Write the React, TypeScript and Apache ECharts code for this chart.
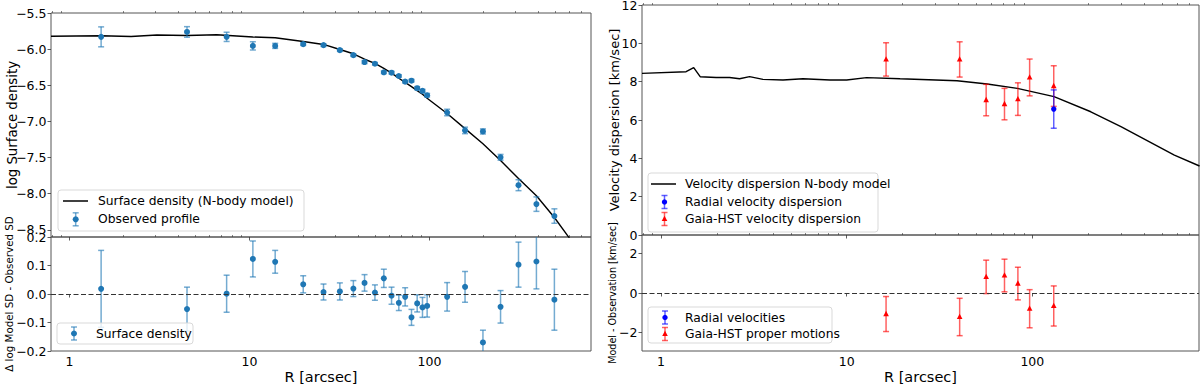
import React, { useEffect, useRef } from "react";
import * as echarts from "echarts";

// ---------- data ----------
const sdR = [1.5, 4.5, 7.47, 10.45, 13.9, 19.9, 25.8, 31.8, 37.8, 43.6, 49.8, 55.8, 61.6, 67.6, 73.3, 79.5, 85.5, 91.5, 97.1, 125.4, 157.7, 198.3, 248.4, 312.5, 393, 494.6];
const sdLog = [-5.83, -5.762, -5.83, -5.955, -5.955, -5.931, -5.945, -6.014, -6.083, -6.179, -6.202, -6.321, -6.326, -6.372, -6.45, -6.437, -6.541, -6.578, -6.638, -6.877, -7.125, -7.139, -7.497, -7.883, -8.145, -8.31];
const sdErr = [0.138, 0.073, 0.064, 0.057, 0.035, 0.018, 0.018, 0.018, 0.018, 0.022, 0.018, 0.018, 0.018, 0.018, 0.018, 0.018, 0.022, 0.022, 0.025, 0.045, 0.045, 0.035, 0.04, 0.076, 0.1, 0.1];

const sdRes = [0.018, -0.053, 0.001, 0.123, 0.113, 0.034, 0.007, 0.009, 0.019, 0.039, 0.005, 0.055, -0.006, -0.031, -0.01, -0.082, -0.033, -0.047, -0.042, -0.01, 0.025, -0.17, -0.045, 0.103, 0.114, -0.02];
const sdResErr = [0.135, 0.077, 0.065, 0.063, 0.04, 0.03, 0.028, 0.03, 0.028, 0.029, 0.027, 0.032, 0.03, 0.027, 0.032, 0.028, 0.03, 0.035, 0.039, 0.05, 0.054, 0.043, 0.057, 0.079, 0.096, 0.107];

const modelSdR = [0.79, 1.5, 2.2, 3.06, 4.5, 6.58, 10.45, 13.9, 19.9, 25.8, 31.8, 37.8, 43.6, 49.8, 55.8, 61.6, 67.6, 73.3, 79.5, 85.5, 91.5, 97.1, 125.4, 157.7, 198.3, 248.4, 312.5, 393, 494.6, 591, 660];
const modelSd = [-5.821, -5.815, -5.825, -5.805, -5.812, -5.8, -5.832, -5.843, -5.895, -5.935, -6.005, -6.064, -6.14, -6.197, -6.266, -6.332, -6.403, -6.46, -6.519, -6.574, -6.625, -6.68, -6.89, -7.1, -7.31, -7.54, -7.79, -8.03, -8.33, -8.594, -8.78];

const velModelR = [0.79, 1.365, 1.5, 1.625, 1.98, 2.34, 2.65, 3.0, 3.54, 4.54, 5.82, 8.13, 10, 12.8, 19.4, 39.3, 57.1, 83, 130.9, 206.5, 300, 582, 795];
const velModel = [8.43, 8.52, 8.73, 8.26, 8.22, 8.22, 8.15, 8.26, 8.12, 8.09, 8.15, 8.09, 8.09, 8.21, 8.15, 8.05, 7.88, 7.65, 7.22, 6.43, 5.65, 4.17, 3.6];

const gaiaR = [16.3, 40.6, 56.4, 70.8, 83.6, 96.7, 130.4];
const gaiaSig = [9.16, 9.16, 7.04, 6.83, 7.09, 8.22, 7.77];
const gaiaErr = [0.87, 0.92, 0.82, 0.82, 0.85, 0.96, 1.06];

const radialR = [130.4];
const radialSig = [6.57];
const radialErr = [1.0];

const gaiaRes = [-1.07, -1.22, 0.82, 0.89, 0.48, -0.8, -0.66];
const gaiaResErr = [0.89, 0.95, 0.85, 0.83, 0.83, 0.97, 1.02];

const xMajor = [1, 10, 100];
const xMinor = [0.8, 0.9, 2, 3, 4, 5, 6, 7, 8, 9, 20, 30, 40, 50, 60, 70, 80, 90, 200, 300, 400, 500, 600, 700];
const sdTicks = [-8.5, -8, -7.5, -7, -6.5, -6, -5.5];
const velResTicks = [-2, 0, 2];

// ---------- styles ----------
const FONT = "DejaVu Sans";
const C0 = "#1f77b4";
const C0bar = "rgba(31,119,180,0.62)";
const RED = "#ff0000";
const REDbar = "rgba(255,0,0,0.62)";
const BLUE = "#0000ff";
const BLUEbar = "rgba(0,0,255,0.62)";
const SPINE = "#555";
const TICK = "#333";

const minusFmt = (s: string) => s.replace("-", "\u2212");

function ebRender(color: string, barColor: string, marker: string, size: number) {
  return (params: any, api: any) => {
    const x = api.value(0);
    const y = api.value(1);
    const e = api.value(2);
    const c = api.coord([x, y]);
    const t = api.coord([x, y + e]);
    const b = api.coord([x, y - e]);
    const cap = 3;
    const ls = { stroke: barColor, lineWidth: 1.5 };
    const mk =
      marker === "circle"
        ? { type: "circle", shape: { cx: c[0], cy: c[1], r: size }, style: { fill: color } }
        : {
            type: "polygon",
            shape: { points: [[c[0], c[1] - size * 1.15], [c[0] - size, c[1] + size * 0.75], [c[0] + size, c[1] + size * 0.75]] },
            style: { fill: color },
          };
    return {
      type: "group",
      children: [
        { type: "line", shape: { x1: c[0], y1: t[1], x2: c[0], y2: b[1] }, style: ls },
        { type: "line", shape: { x1: c[0] - cap, y1: t[1], x2: c[0] + cap, y2: t[1] }, style: ls },
        { type: "line", shape: { x1: c[0] - cap, y1: b[1], x2: c[0] + cap, y2: b[1] }, style: ls },
        mk,
      ],
    };
  };
}

function ebSeries(xi: number, yi: number, xs: number[], ys: number[], es: number[], color: string, barColor: string, marker: string, size: number, extra: any = {}) {
  return {
    type: "custom",
    xAxisIndex: xi,
    yAxisIndex: yi,
    clip: true,
    dimensions: ["x", "y", "e"],
    encode: { x: 0, y: 1 },
    data: xs.map((r, i) => [r, ys[i], es[i]]),
    renderItem: ebRender(color, barColor, marker, size),
    z: 3,
    ...extra,
  };
}

const zeroLine = {
  silent: true,
  symbol: ["none", "none"],
  label: { show: false },
  lineStyle: { type: [5, 2.5], color: "#333", width: 1.2 },
  data: [{ yAxis: 0 }],
};

function xAxes(g: number, bottom: boolean) {
  return [
    {
      type: "log",
      logBase: 10,
      gridIndex: g,
      min: 0.79,
      max: 790,
      axisLine: { show: false },
      splitLine: { show: false },
      axisTick: { show: true, length: 3.5, lineStyle: { color: TICK, width: 0.8 }, customValues: xMajor },
      axisLabel: {
        show: bottom,
        customValues: xMajor,
        formatter: (v: number) => String(Math.round(v)),
        fontSize: 12.5,
        fontFamily: FONT,
        color: "#000",
        margin: 4,
      },
      name: bottom ? "R [arcsec]" : "",
      nameLocation: "middle",
      nameGap: 18,
      nameMoveOverlap: false,
      nameTextStyle: { fontSize: 14.5, fontFamily: FONT, color: "#000" },
    },
    {
      type: "log",
      logBase: 10,
      gridIndex: g,
      min: 0.79,
      max: 790,
      axisLine: { show: false },
      splitLine: { show: false },
      axisTick: { show: true, length: 2, lineStyle: { color: TICK, width: 0.6 }, customValues: xMinor },
      axisLabel: { show: false },
    },
  ];
}

function yAxis(g: number, min: number, max: number, ticks: number[], fmt: (v: number) => string, name: string, nameSize: number, nameGap: number) {
  return {
    type: "value",
    gridIndex: g,
    min,
    max,
    axisLine: { show: false },
    splitLine: { show: false },
    axisTick: { show: true, length: 3.5, lineStyle: { color: TICK, width: 0.8 }, customValues: ticks },
    axisLabel: { customValues: ticks, formatter: fmt, fontSize: 12.5, fontFamily: FONT, color: "#000", margin: 4.5 },
    name,
    nameLocation: "middle",
    nameGap,
    nameMoveOverlap: false,
    nameTextStyle: { fontSize: nameSize, fontFamily: FONT, color: "#000" },
  };
}

const gridBase = { show: true, borderColor: SPINE, borderWidth: 1, backgroundColor: "transparent", containLabel: false, outerBoundsMode: "none" };

// ---------- legend graphics ----------
const legText = (x: number, y: number, text: string) => ({
  type: "text",
  x,
  y,
  z: 101,
  style: { text, fontSize: 12.3, fontFamily: FONT, fill: "#000", verticalAlign: "middle", align: "left" },
});
const legBox = (x: number, y: number, w: number, h: number) => ({
  type: "rect",
  z: 100,
  shape: { x, y, width: w, height: h, r: 3 },
  style: { fill: "rgba(255,255,255,0.8)", stroke: "#d9d9d9", lineWidth: 1 },
});
const legLine = (x: number, y: number) => ({
  type: "line",
  z: 101,
  shape: { x1: x, y1: y, x2: x + 25, y2: y },
  style: { stroke: "#000", lineWidth: 1.5 },
});
const legEb = (cx: number, cy: number, color: string, barColor: string, marker: string, size: number) => {
  const ls = { stroke: barColor, lineWidth: 1.5 };
  const mk =
    marker === "circle"
      ? { type: "circle", z: 102, shape: { cx, cy, r: size }, style: { fill: color } }
      : {
          type: "polygon",
          z: 102,
          shape: { points: [[cx, cy - size * 1.15], [cx - size, cy + size * 0.75], [cx + size, cy + size * 0.75]] },
          style: { fill: color },
        };
  return [
    { type: "line", z: 101, shape: { x1: cx, y1: cy - 6.5, x2: cx, y2: cy + 6.5 }, style: ls },
    { type: "line", z: 101, shape: { x1: cx - 3, y1: cy - 6.5, x2: cx + 3, y2: cy - 6.5 }, style: ls },
    { type: "line", z: 101, shape: { x1: cx - 3, y1: cy + 6.5, x2: cx + 3, y2: cy + 6.5 }, style: ls },
    mk,
  ];
};

const graphics = [
  // left top legend
  legBox(58, 190, 246, 41),
  legLine(63, 201),
  legText(98, 201, "Surface density (N-body model)"),
  ...legEb(75.7, 219.3, C0, C0bar, "circle", 3),
  legText(98, 219.3, "Observed profile"),
  // left bottom legend
  legBox(57, 323, 136, 21),
  ...legEb(74, 333.5, C0, C0bar, "circle", 3),
  legText(96, 333.5, "Surface density"),
  // right top legend
  legBox(648, 173, 230, 59),
  legLine(651, 184),
  legText(685, 184, "Velocity dispersion N-body model"),
  ...legEb(664.5, 202, BLUE, BLUEbar, "circle", 2.7),
  legText(685, 202, "Radial velocity dispersion"),
  ...legEb(664.5, 219, RED, REDbar, "tri", 2.8),
  legText(685, 219, "Gaia-HST velocity dispersion"),
  // right bottom legend
  legBox(648, 307, 184, 36),
  ...legEb(665, 317.5, BLUE, BLUEbar, "circle", 2.7),
  legText(685, 317.5, "Radial velocities"),
  ...legEb(665, 334, RED, REDbar, "tri", 2.8),
  legText(685, 334, "Gaia-HST proper motions"),
];

const option: any = {
  animation: false,
  backgroundColor: "#fff",
  textStyle: { fontFamily: FONT },
  grid: [
    { ...gridBase, left: 51, top: 13, width: 540, height: 224 },
    { ...gridBase, left: 51, top: 237, width: 540, height: 114 },
    { ...gridBase, left: 642, top: 5, width: 557, height: 230 },
    { ...gridBase, left: 642, top: 235, width: 557, height: 116 },
  ],
  xAxis: [...xAxes(0, false), ...xAxes(1, true), ...xAxes(2, false), ...xAxes(3, true)],
  yAxis: [
    yAxis(0, -8.6, -5.5, sdTicks, (v) => minusFmt(v.toFixed(1)), "log Surface density", 13.3, 32),
    yAxis(1, -0.2, 0.2, [-0.2, -0.1, 0, 0.1, 0.2], (v) => minusFmt(v.toFixed(1)), "\u0394 log Model SD - Observed SD", 10.3, 37),
    yAxis(2, 0, 12, [0, 2, 4, 6, 8, 10, 12], (v) => String(Math.round(v)), "Velocity dispersion [km/sec]", 13, 21),
    yAxis(3, -2.95, 2.95, velResTicks, (v) => minusFmt(String(Math.round(v))), "Model - Observation [km/sec]", 9.6, 25),
  ],
  series: [
    {
      type: "line",
      name: "Surface density (N-body model)",
      xAxisIndex: 0,
      yAxisIndex: 0,
      data: modelSdR.map((r, i) => [r, modelSd[i]]),
      showSymbol: false,
      symbol: "none",
      clip: true,
      lineStyle: { color: "#000", width: 1.4 },
      z: 2,
    },
    ebSeries(0, 0, sdR, sdLog, sdErr, C0, C0bar, "circle", 3),
    ebSeries(2, 1, sdR, sdRes, sdResErr, C0, C0bar, "circle", 3, { markLine: zeroLine }),
    {
      type: "line",
      name: "Velocity dispersion N-body model",
      xAxisIndex: 4,
      yAxisIndex: 2,
      data: velModelR.map((r, i) => [r, velModel[i]]),
      showSymbol: false,
      symbol: "none",
      clip: true,
      lineStyle: { color: "#000", width: 1.4 },
      z: 2,
    },
    ebSeries(4, 2, gaiaR, gaiaSig, gaiaErr, RED, REDbar, "tri", 2.8),
    ebSeries(4, 2, radialR, radialSig, radialErr, BLUE, BLUEbar, "circle", 2.7),
    ebSeries(6, 3, gaiaR, gaiaRes, gaiaResErr, RED, REDbar, "tri", 2.8, { markLine: zeroLine }),
  ],
  graphic: { elements: graphics },
};

export default function App() {
  const ref = useRef<HTMLDivElement>(null);
  useEffect(() => {
    const chart = echarts.init(ref.current as HTMLDivElement, null, { renderer: "svg" });
    chart.setOption(option);
    return () => chart.dispose();
  }, []);
  return (
    <div
      ref={ref}
      style={{ position: "absolute", left: 0, top: 0, width: 1200, height: 384, background: "#fff" }}
    />
  );
}
